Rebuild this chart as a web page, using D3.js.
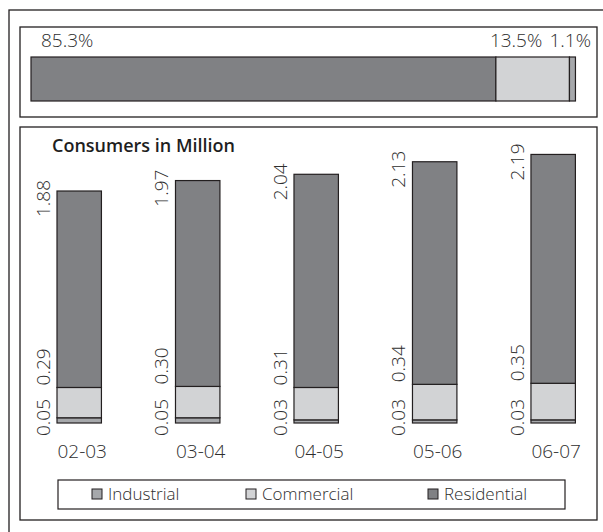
<!DOCTYPE html>
<html lang="en">
<head>
<meta charset="UTF-8">
<title>Consumers in Million</title>
<script src="https://d3js.org/d3.v7.min.js"></script>
<style>
  body { margin: 0; background: #fff; }
  text { font-family: "Open Sans", "Noto Sans", sans-serif; fill: #2e2e2e; }
  .num { font-weight: 300; }
</style>
</head>
<body>
<svg id="chart" width="603" height="532"></svg>
<script>
// share of consumers (top strip), in %
var shareKeys = ["Residential", "Commercial", "Industrial"];
var shareValues = [85.3, 13.5, 1.1];

// consumers in million per year
var years = ["02-03", "03-04", "04-05", "05-06", "06-07"];
var industrial = [0.05, 0.05, 0.03, 0.03, 0.03];
var commercial = [0.29, 0.30, 0.31, 0.34, 0.35];
var residential = [1.88, 1.97, 2.04, 2.13, 2.19];

var legendItems = ["Industrial", "Commercial", "Residential"];

var colors = { Industrial: "#a6a8ab", Commercial: "#d2d3d5", Residential: "#808184" };
var edge = "#231f20";

var svg = d3.select("#chart");

// frames
svg.append("rect").attr("x", 9).attr("y", 10).attr("width", 700).attr("height", 600)
  .attr("fill", "none").attr("stroke", edge).attr("stroke-width", 1.3);
svg.append("rect").attr("x", 20).attr("y", 27).attr("width", 577).attr("height", 90)
  .attr("fill", "none").attr("stroke", edge).attr("stroke-width", 1.3);
svg.append("rect").attr("x", 20).attr("y", 127).attr("width", 577).attr("height", 393)
  .attr("fill", "none").attr("stroke", edge).attr("stroke-width", 1.3);

// ---- top share strip ----
var xs = d3.scaleLinear().domain([0, 100]).range([31, 576]);
var cum = 0;
var shareData = shareValues.map(function (v, i) {
  var d = { key: shareKeys[i], v: v, x0: cum, x1: cum + v };
  cum += v;
  return d;
});
svg.append("g").selectAll("rect").data(shareData).join("rect")
  .attr("x", function (d) { return xs(d.x0); })
  .attr("width", function (d) { return xs(d.x1) - xs(d.x0); })
  .attr("y", 57).attr("height", 44)
  .attr("fill", function (d) { return colors[d.key]; })
  .attr("stroke", edge).attr("stroke-width", 1.2);

var sl = svg.append("g").attr("class", "num").attr("font-size", 19);
sl.append("text").attr("x", xs(shareData[0].x0) + 10).attr("y", 47)
  .text(shareData[0].v.toFixed(1) + "%");
sl.append("text").attr("x", xs(shareData[1].x0) - 6).attr("y", 47)
  .text(shareData[1].v.toFixed(1) + "%");
sl.append("text").attr("x", xs(100) + 15).attr("y", 47).attr("text-anchor", "end")
  .text(shareData[2].v.toFixed(1) + "%");

// ---- stacked bars ----
svg.append("text").attr("x", 52).attr("y", 152).attr("font-size", 18)
  .attr("font-weight", 600).style("fill", "#1e1e1e").text("Consumers in Million");

var x = d3.scaleBand().domain(years).range([57, 575.4]).paddingInner(0.625).paddingOuter(0);
var y = d3.scaleLinear().domain([0, 2.6]).range([423, 151.3]);

var rows = years.map(function (yr, i) {
  return { year: yr, Industrial: industrial[i], Commercial: commercial[i], Residential: residential[i] };
});
var stack = d3.stack().keys(legendItems)(rows);

svg.append("g").selectAll("g").data(stack).join("g")
  .attr("fill", function (s) { return colors[s.key]; })
  .selectAll("rect").data(function (s) { return s; }).join("rect")
  .attr("x", function (d) { return x(d.data.year); })
  .attr("width", x.bandwidth())
  .attr("y", function (d) { return y(d[1]); })
  .attr("height", function (d) { return y(d[0]) - y(d[1]); })
  .attr("stroke", edge).attr("stroke-width", 1.2);

// rotated value labels
var vl = svg.append("g").attr("class", "num").attr("font-size", 19);
rows.forEach(function (r) {
  var lx = x(r.year) - 7;
  var top = y(r.Industrial + r.Commercial + r.Residential);
  vl.append("text").attr("transform", "translate(" + lx + "," + (y(0) + 13) + ") rotate(-90)")
    .text(r.Industrial.toFixed(2));
  vl.append("text").attr("transform", "translate(" + lx + "," + (y(r.Industrial + r.Commercial) - 2) + ") rotate(-90)")
    .text(r.Commercial.toFixed(2));
  vl.append("text").attr("transform", "translate(" + lx + "," + (top - 11) + ") rotate(-90)")
    .attr("text-anchor", "end").text(r.Residential.toFixed(2));
});

// category labels
svg.append("g").attr("class", "num").attr("font-size", 19).selectAll("text").data(years).join("text")
  .attr("x", function (d) { return x(d) + x.bandwidth() / 2 + 3; })
  .attr("y", 458).attr("text-anchor", "middle").text(function (d) { return d; });

// legend
svg.append("rect").attr("x", 58).attr("y", 480).attr("width", 507).attr("height", 29)
  .attr("fill", "none").attr("stroke", edge).attr("stroke-width", 1.2);
var lgX = [92, 246, 428];
var lg = svg.append("g").selectAll("g").data(legendItems).join("g")
  .attr("transform", function (d, i) { return "translate(" + lgX[i] + ",489)"; });
lg.append("rect").attr("width", 10).attr("height", 10)
  .attr("fill", function (d) { return colors[d]; })
  .attr("stroke", edge).attr("stroke-width", 1);
lg.append("text").attr("class", "num").attr("x", 16).attr("y", 10.5).attr("font-size", 17)
  .text(function (d) { return d; });
</script>
</body>
</html>
